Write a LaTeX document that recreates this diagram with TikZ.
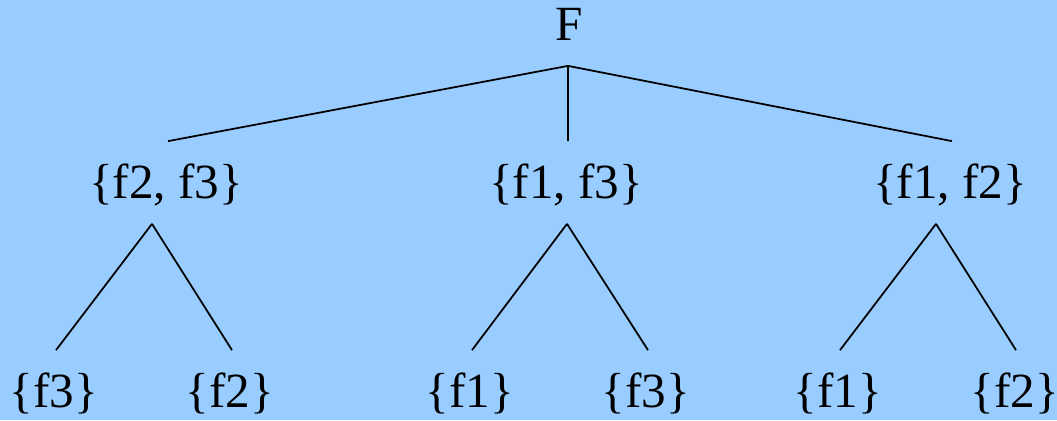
\documentclass[tikz,border=0pt]{standalone}
\usepackage{fontspec}
\setmainfont{Liberation Serif}
\usepackage{tikz}
\usetikzlibrary{positioning, calc}
\definecolor{skyblue}{HTML}{99CCFF}

\begin{document}
\begin{tikzpicture}[x=0.02cm, y=-0.02cm, line width=1pt,
    set/.style={anchor=base, inner sep=0pt, text height=1.12cm, text depth=0.5cm,
      font=\fontsize{28}{32}\selectfont}]
    \useasboundingbox (0, 0) rectangle (1057, 420);
    \fill[skyblue] (0, 0) rectangle (1057, 420);

    % Nodes
    \node[set] (F) at (569, 40) {F};
    \node[set] (F23) at (166, 198) {\{f2, f3\}};
    \node[set] (F13) at (566, 198) {\{f1, f3\}};
    \node[set] (F12) at (950, 198) {\{f1, f2\}};
    \node[set] (L3a) at (54, 407) {\{f3\}};
    \node[set] (L2a) at (230, 407) {\{f2\}};
    \node[set] (L1a) at (470, 407) {\{f1\}};
    \node[set] (L3b) at (646, 407) {\{f3\}};
    \node[set] (L1b) at (838, 407) {\{f1\}};
    \node[set] (L2b) at (1015, 407) {\{f2\}};

    % Edges
    \draw ([xshift=-0.02cm]F.south) -- ([xshift=0.04cm]F23.north);
    \draw ([xshift=-0.02cm]F.south) -- ([xshift=0.04cm]F13.north);
    \draw ([xshift=-0.02cm]F.south) -- ([xshift=0.04cm]F12.north);
    \draw ([xshift=-0.28cm]F23.south) -- ([xshift=0.04cm]L3a.north);
    \draw ([xshift=-0.28cm]F23.south) -- ([xshift=0.04cm]L2a.north);
    \draw ([xshift=0.02cm]F13.south) -- ([xshift=0.04cm]L1a.north);
    \draw ([xshift=0.02cm]F13.south) -- ([xshift=0.04cm]L3b.north);
    \draw ([xshift=-0.28cm]F12.south) -- ([xshift=0.04cm]L1b.north);
    \draw ([xshift=-0.28cm]F12.south) -- ([xshift=0.02cm]L2b.north);
\end{tikzpicture}
\end{document}
